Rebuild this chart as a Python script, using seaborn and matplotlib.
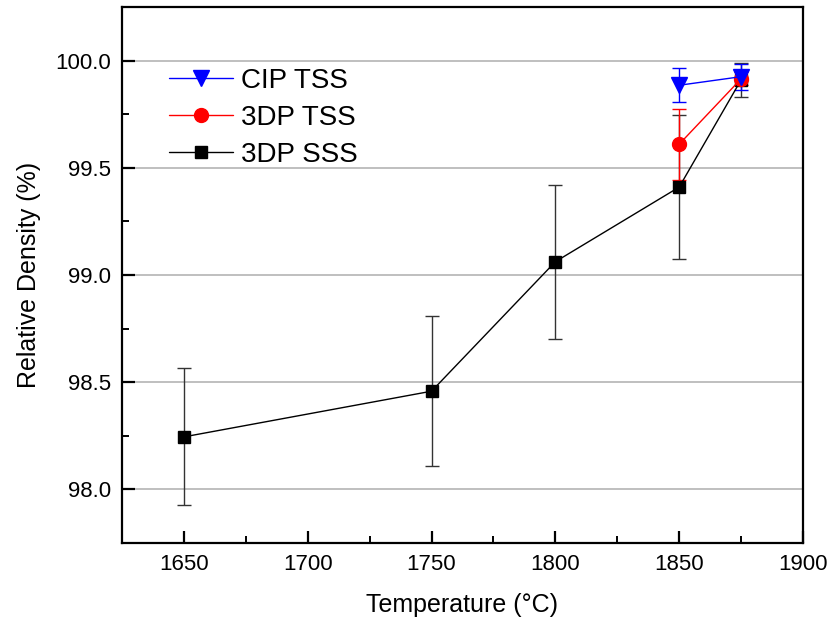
import matplotlib
matplotlib.use("Agg")
import matplotlib.pyplot as plt
import seaborn as sns
import pandas as pd
from matplotlib.ticker import MultipleLocator

sns.set_style("white")
plt.rcParams['font.family'] = ['Liberation Sans', 'DejaVu Sans']
plt.rcParams['text.color'] = 'black'
plt.rcParams['axes.labelcolor'] = 'black'
plt.rcParams['xtick.color'] = 'black'
plt.rcParams['ytick.color'] = 'black'

# Data
sss_temp = [1650, 1750, 1800, 1850, 1875]
sss_dens = [98.245, 98.458, 99.062, 99.41, 99.91]
sss_err = [0.32, 0.35, 0.36, 0.335, 0.08]

tss_temp = [1850, 1875]
tss_dens = [99.61, 99.915]
tss_err = [0.165, 0.03]

cip_temp = [1850, 1875]
cip_dens = [99.885, 99.925]
cip_err = [0.08, 0.06]

series = [
    ("3DP SSS", sss_temp, sss_dens, sss_err, "black", "s", 8, "#333333"),
    ("3DP TSS", tss_temp, tss_dens, tss_err, "red", "o", 10, "red"),
    ("CIP TSS", cip_temp, cip_dens, cip_err, "blue", "v", 11, "blue"),
]

fig = plt.figure(figsize=(8.32, 6.3), dpi=100)
ax = fig.add_axes([122/832, 1-543/630, (803-122)/832, (543-7)/630])

for name, xs, ys, es, col, mk, ms, ecol in series:
    df = pd.DataFrame({"Temperature": xs, "Density": ys})
    ax.errorbar(xs, ys, yerr=es, fmt="none", ecolor=ecol, elinewidth=1.0,
                capsize=5, capthick=1.0, zorder=2)
    sns.lineplot(data=df, x="Temperature", y="Density", ax=ax, color=col,
                 marker=mk, markersize=ms, markeredgecolor=col,
                 markeredgewidth=1, linewidth=1.0, label=name, zorder=3)

ax.set_xlim(1625, 1900)
ax.set_ylim(97.75, 100.25)
ax.xaxis.set_major_locator(MultipleLocator(50))
ax.xaxis.set_minor_locator(MultipleLocator(25))
ax.yaxis.set_major_locator(MultipleLocator(0.5))
ax.yaxis.set_minor_locator(MultipleLocator(0.25))
ax.yaxis.set_major_formatter(matplotlib.ticker.FormatStrFormatter('%.1f'))

ax.grid(axis="y", which="major", color="#b4b4b4", linewidth=1.2)
ax.grid(axis="x", visible=False)
ax.set_axisbelow(True)

for s in ax.spines.values():
    s.set_visible(True)
    s.set_color("black")
    s.set_linewidth(1.6)

ax.tick_params(axis="both", which="major", direction="in", length=9, width=1.6,
               labelsize=16, bottom=True, left=True, top=False, right=False, pad=8)
ax.tick_params(axis="both", which="minor", direction="in", length=5, width=1.4,
               bottom=True, left=True, top=False, right=False)

ax.set_xlabel("Temperature (°C)", fontsize=18, labelpad=13)
ax.set_ylabel("Relative Density (%)", fontsize=18, labelpad=10)

h, l = ax.get_legend_handles_labels()
order = ["CIP TSS", "3DP TSS", "3DP SSS"]
hd = dict(zip(l, h))
ax.legend([hd[k] for k in order], order, loc="upper left",
          bbox_to_anchor=(0.04, 0.923), frameon=False, fontsize=20,
          handlelength=2.3, labelspacing=0.4, handletextpad=0.3, borderpad=0.2)

fig.savefig("out.png", dpi=100)
